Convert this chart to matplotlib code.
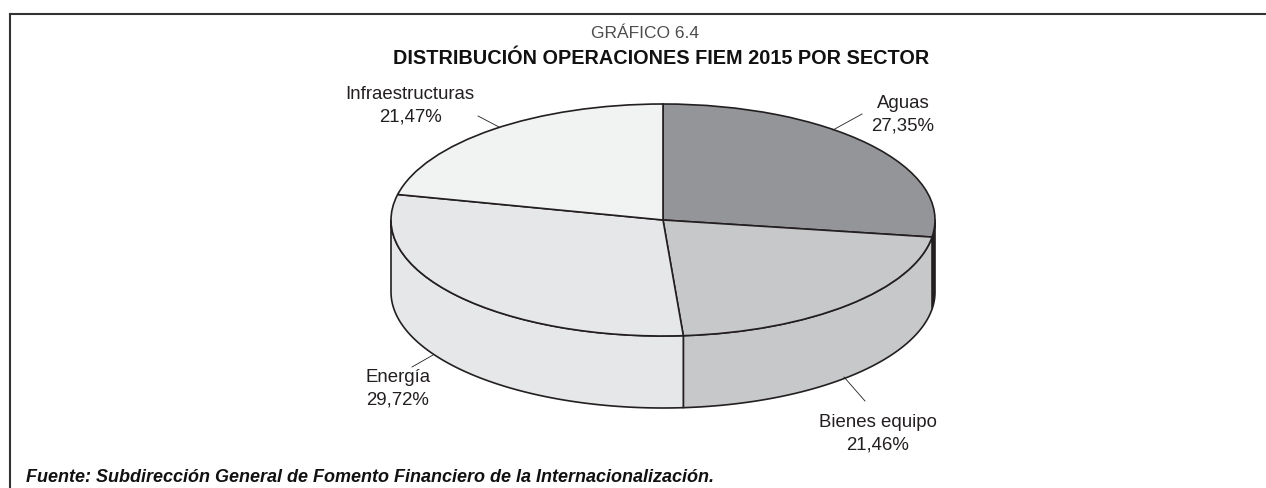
#!/usr/bin/env python3
"""Grafico 6.4 - FIEM 2015 operations by sector, 3D-looking pie"""

import numpy as np
import matplotlib
matplotlib.use("Agg")
import matplotlib.pyplot as plt

W, H = 1266, 488

sectors = ['Aguas', 'Bienes equipo', 'Energía', 'Infraestructuras']
shares = [27.35, 21.46, 29.72, 21.47]
share_labels = ['27,35%', '21,46%', '29,72%', '21,47%']
top_colors = ['#939598', '#c7c8ca', '#e6e7e8', '#f1f2f2']
side_colors = ['#231f20', '#c7c8ca', '#e6e7e8', '#f1f2f2']

# pie geometry in pixels
CX, CY, RX, RY, DEPTH = 663, 220, 272, 116, 72
INK = '#231f20'

plt.rcParams['font.family'] = ['Liberation Sans', 'DejaVu Sans']

fig = plt.figure(figsize=(W / 100, H / 100), dpi=100)
ax = fig.add_axes([0, 0, 1, 1])

# cylinder wall: only the front half of each slice is visible
depth = DEPTH / RY
edges = np.cumsum([0] + shares) / sum(shares) * 360
for i in range(len(shares)):
    a0, a1 = max(edges[i], 90), min(edges[i + 1], 270)
    if a1 <= a0:
        continue
    t = np.radians(np.linspace(a0, a1, 80))
    x, y = np.sin(t), np.cos(t)
    ax.fill(np.r_[x, x[::-1]], np.r_[y, y[::-1] - depth], facecolor=side_colors[i],
            edgecolor=INK, linewidth=1.2, joinstyle='round', zorder=1)

wedges, _ = ax.pie(shares, colors=top_colors, startangle=90, counterclock=False, radius=1,
                   wedgeprops={'edgecolor': INK, 'linewidth': 1.2})
for w in wedges:
    w.set_zorder(2)

ax.set_aspect('auto')
ax.set_xlim(-CX / RX, (W - CX) / RX)
ax.set_ylim((CY - H) / RY, CY / RY)
ax.axis('off')


def px(x, y):
    return x / W, 1 - y / H


# label position, leader start, leader end (pixels)
label_pos = [(903, 115), (878, 434), (398, 389), (410, 106)]
leader_from = [(862, 114), (865, 401), (412, 367), (478, 116)]
leader_to = [(833, 130), (844, 377), (433, 355), (499, 127)]

for name, pct, pos, p0, p1 in zip(sectors, share_labels, label_pos, leader_from, leader_to):
    fig.text(*px(*pos), f'{name}\n{pct}', ha='center', va='center', fontsize=13.4,
             color=INK, linespacing=1.45)
    fig.add_artist(plt.Line2D(*zip(px(*p0), px(*p1)), color=INK, lw=0.6))

# frame: top and left rules only
fig.add_artist(plt.Line2D(*zip(px(10, 14), px(W, 14)), color='#333333', lw=1.5))
fig.add_artist(plt.Line2D(*zip(px(10, 14), px(10, H)), color='#333333', lw=1.5))

fig.text(*px(645, 33), 'GRÁFICO 6.4', ha='center', va='center', fontsize=12.5, color='#4d4d4f')
fig.text(*px(661, 58), 'DISTRIBUCIÓN OPERACIONES FIEM 2015 POR SECTOR', ha='center', va='center',
         fontsize=14.3, fontweight='bold', color='#111111')
fig.text(*px(26, 478), 'Fuente: Subdirección General de Fomento Financiero de la Internacionalización.',
         ha='left', va='center', fontsize=13, fontweight='bold', style='italic', color='#111111')

fig.savefig('out.png', dpi=100)
